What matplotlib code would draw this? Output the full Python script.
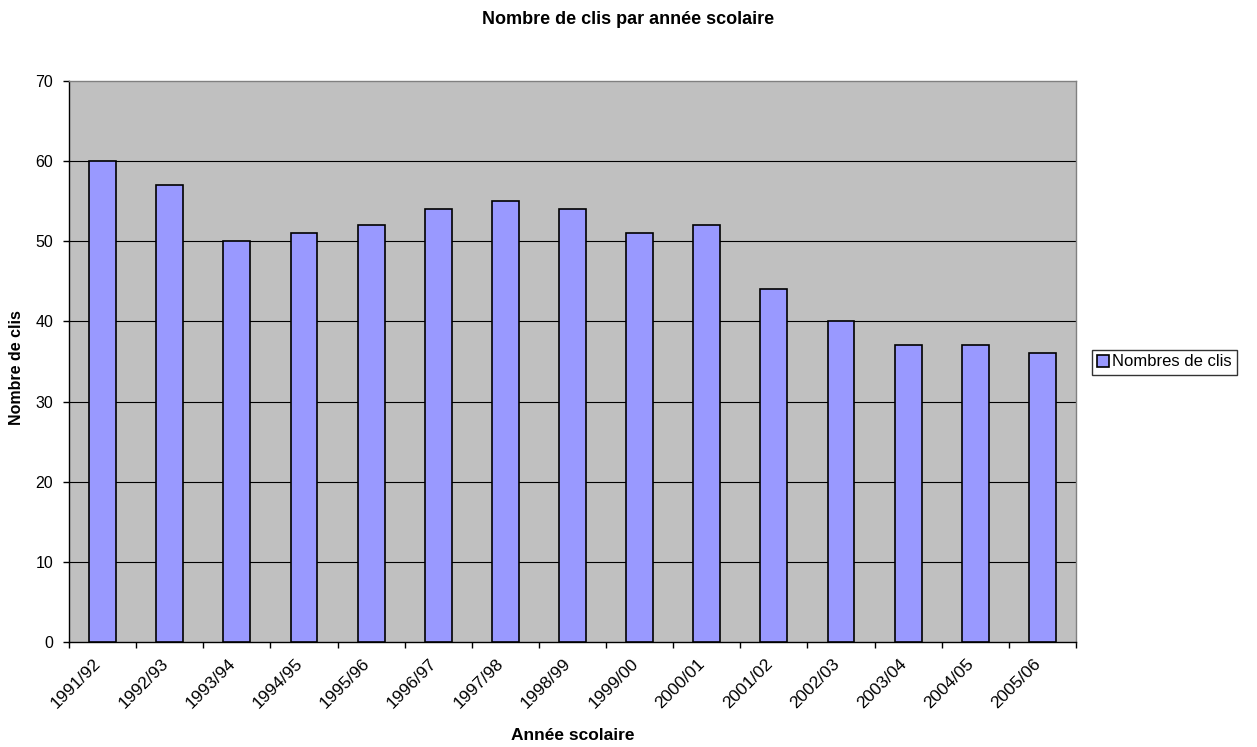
import matplotlib
matplotlib.use("Agg")
import matplotlib.pyplot as plt
import numpy as np
from matplotlib.transforms import ScaledTranslation

years = ["1991/92", "1992/93", "1993/94", "1994/95", "1995/96", "1996/97", "1997/98",
         "1998/99", "1999/00", "2000/01", "2001/02", "2002/03", "2003/04", "2004/05", "2005/06"]
clis = [60, 57, 50, 51, 52, 54, 55, 54, 51, 52, 44, 40, 37, 37, 36]

plt.rcParams['font.family'] = ['Liberation Sans', 'DejaVu Sans']

W, H = 1257, 747
fig = plt.figure(figsize=(W / 100, H / 100), dpi=100)
ax = fig.add_axes([69 / W, 1 - 642 / H, (1076 - 69) / W, (642 - 81) / H])
ax.set_facecolor('#c0c0c0')

x = np.arange(len(years))
ax.bar(x, clis, width=0.4, color='#9999ff', edgecolor='black', linewidth=1.2,
       label='Nombres de clis', zorder=3)
ax.set_xlim(-0.5, len(years) - 0.5)
ax.set_ylim(0, 70)
ax.set_yticks(range(0, 71, 10))
for yv in range(10, 70, 10):
    ax.axhline(yv, color='black', linewidth=0.8, zorder=1)

ax.set_xticks(np.arange(-0.5, len(years), 1.0))
ax.set_xticklabels([])
ax.set_xticks(x, minor=True)
ax.set_xticklabels(years, minor=True, rotation=45, ha='right', va='center',
                   rotation_mode='anchor', fontsize=12.5)
ax.tick_params(axis='x', which='minor', length=0, pad=14)
ax.tick_params(axis='x', which='major', direction='out', length=4.5, width=1)
ax.tick_params(axis='y', direction='out', length=4.5, width=1, labelsize=11.5, pad=7)
shift = ScaledTranslation(-4 / 100, 0, fig.dpi_scale_trans)
for lab in ax.get_xticklabels(minor=True):
    lab.set_transform(lab.get_transform() + shift)

for s in ['top', 'right']:
    ax.spines[s].set_color('#808080')
    ax.spines[s].set_linewidth(1)
for s in ['left', 'bottom']:
    ax.spines[s].set_color('black')
    ax.spines[s].set_linewidth(1)

fig.text(572.5 / W, 1 - 735 / H, 'Année scolaire', ha='center', va='center',
         fontsize=12.5, fontweight='bold')
fig.text(17 / W, 1 - 368 / H, 'Nombre de clis', ha='center', va='center',
         rotation=90, fontsize=11.5, fontweight='bold')
fig.text(0.5, 1 - 20 / H, 'Nombre de clis par année scolaire', ha='center', va='center',
         fontsize=13, fontweight='bold')

leg = fig.legend(loc='center left', bbox_to_anchor=(1092 / W, 1 - 362 / H), fontsize=12,
                 frameon=True, fancybox=False, edgecolor='black', handlelength=0.7,
                 handleheight=0.7, handletextpad=0.2, borderpad=0.3, borderaxespad=0)
leg.get_frame().set_linewidth(1)

fig.savefig('out.png', dpi=100)
